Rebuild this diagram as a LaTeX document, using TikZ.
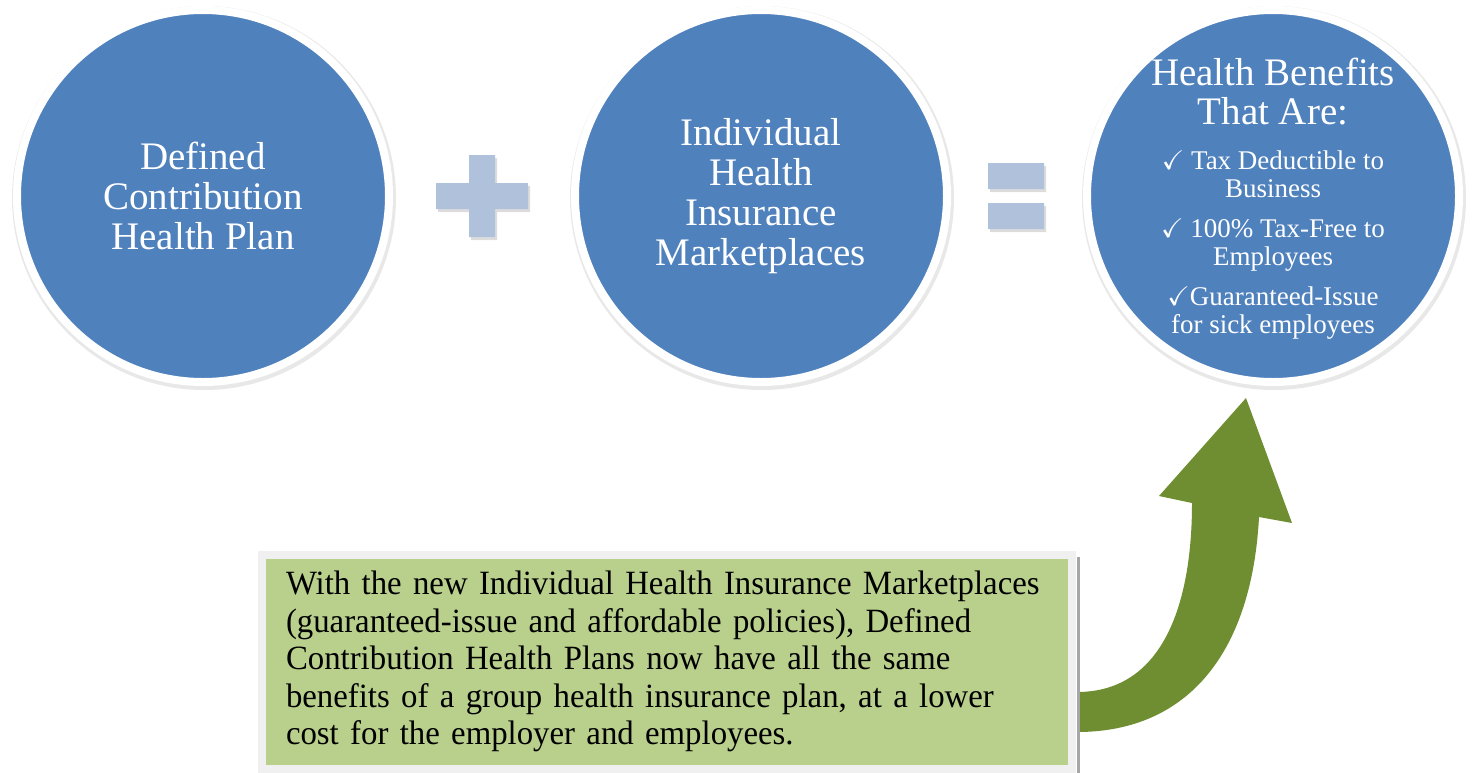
\documentclass[tikz,border=0pt]{standalone}
\usepackage{amssymb}
\usepackage{fontspec}
\setmainfont{Liberation Serif}
\newfontfamily\notefont[FakeStretch=0.965]{Liberation Serif}
\newcommand\notestyle{\notefont\fontsize{34}{37.5}\selectfont\hyphenpenalty=10000\relax}
\usepackage{tikz}
\usetikzlibrary{calc,positioning}

\definecolor{discblue}{HTML}{4F81BD}
\definecolor{signblue}{HTML}{B0C1DC}
\definecolor{arrowgreen}{HTML}{6F8E31}
\definecolor{notegreen}{HTML}{B9CF8C}
\definecolor{noteframe}{HTML}{F0F0F0}

\begin{document}
\begin{tikzpicture}[x=1pt,y=-1pt,every node/.style={inner sep=0pt},
  disc/.style={circle, fill=discblue, draw=white, line width=8pt, minimum size=372pt, text=white, align=center, font=\fontsize{39}{40}\selectfont},
  disctext/.style={text=white, align=center},
  signshadow/.style={fill=black!30, opacity=.45},
  notebox/.style={rectangle, fill=notegreen, draw=noteframe, line width=8pt, minimum width=810pt, minimum height=213.5pt, text width=762pt, inner xsep=24pt, align=left, font=\notestyle}]
\useasboundingbox (0,0) rectangle (1472,772);
\coordinate (A) at (203,196);
\coordinate (B) at (761,196);
\coordinate (C) at (1273,196);
\coordinate (P) at (482,196);
\coordinate (E) at (1016,196);

\foreach \c in {A,B,C}
  \fill[black!9] ($(\c)+(1,2)$) circle (192pt);

\node[disc] (DCP) at (A) {Defined\\Contribution\\Health Plan};
\node[disc] (IHM) at (B) {Individual\\Health\\Insurance\\Marketplaces};
\node[disc] (HB) at (C) {};
\node[disctext, font=\fontsize{39}{39}\selectfont] (HBtitle) at ($(HB)+(0,-104)$) {Health Benefits\\That Are:};
\node[disctext, font=\fontsize{27}{28}\selectfont] (HBlist) at ($(HB)+(0,49)$)
  {$\checkmark$ Tax Deductible to\\Business\\[12pt]
   $\checkmark$ 100\% Tax-Free to\\Employees\\[12pt]
   $\checkmark$Guaranteed-Issue\\for sick employees};

% plus
\begin{scope}[shift={(P)}]
\fill[signshadow] (-44,-10) rectangle (48,16) (-11,-38) rectangle (15,44);
\fill[signblue] (-46,-13) rectangle (46,13) (-13,-41) rectangle (13,41);
\end{scope}
% equals
\begin{scope}[shift={(E)}]
\fill[signshadow] (-26,-30) rectangle (30,-4) (-26,10) rectangle (30,36);
\fill[signblue] (-28,-33) rectangle (28,-7) (-28,7) rectangle (28,33);
\end{scope}

% arrow
\fill[arrowgreen] (1077,692) .. controls (1165,692) and (1192,600) .. (1192,503) -- (1159,496) -- (1246,398) -- (1292,523) -- (1259,517) .. controls (1252,650) and (1190,732) .. (1077,732) -- cycle;

\node[notebox] (NOTE) at (667,661.75) {With the new Individual Health Insurance Marketplaces\\(guaranteed-issue and affordable policies), Defined\\Contribution Health Plans now have all the same\\benefits of a group health insurance plan, at a lower\\cost for the employer and employees.};
\draw[black!35, line width=3pt] ($(NOTE.north east)+(2,6)$) -- ($(NOTE.south east)+(2,0)$);
\end{tikzpicture}
\end{document}
